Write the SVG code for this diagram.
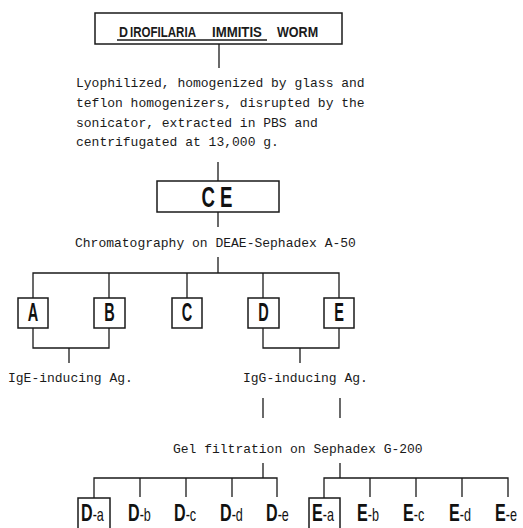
<svg xmlns="http://www.w3.org/2000/svg" width="523" height="528" viewBox="0 0 523 528">
<style>
.ln{stroke:#1a1a1a;stroke-width:1.3;fill:none}
.bx{stroke:#1a1a1a;stroke-width:1.5;fill:#fff}
.mono{font-family:"Liberation Mono","Courier New",monospace;font-size:13px;fill:#1a1a1a}
.ttl{font-family:"Liberation Sans",Arial,sans-serif;font-weight:bold;font-size:15.5px;fill:#1a1a1a}
.big{font-family:"Liberation Sans",Arial,sans-serif;font-weight:bold;fill:#111;text-anchor:middle}
.lab{font-family:"Liberation Sans",Arial,sans-serif;fill:#111}
.lab .D{font-weight:bold;font-size:23px}
.lab .s{font-size:18px}
</style>
<rect width="523" height="528" fill="#fff"/>
<g id="connectors">
<line class="ln" x1="219" y1="44" x2="219" y2="68"/>
<line class="ln" x1="218" y1="162" x2="218" y2="181"/>
<line class="ln" x1="218" y1="212" x2="218" y2="227"/>
<line class="ln" x1="218" y1="257" x2="218" y2="273"/>
<polyline class="ln" points="33,298 33,273 339,273 339,298"/>
<line class="ln" x1="109" y1="273" x2="109" y2="298"/>
<line class="ln" x1="187" y1="273" x2="187" y2="298"/>
<line class="ln" x1="263" y1="273" x2="263" y2="298"/>
<polyline class="ln" points="33,328 33,348 109,348 109,328"/>
<line class="ln" x1="69" y1="348" x2="69" y2="363"/>
<polyline class="ln" points="263,328 263,348 339,348 339,328"/>
<line class="ln" x1="300" y1="348" x2="300" y2="363"/>
<line class="ln" x1="263" y1="398" x2="263" y2="418"/>
<line class="ln" x1="340" y1="398" x2="340" y2="418"/>
<line class="ln" x1="263" y1="463" x2="263" y2="478"/>
<line class="ln" x1="340" y1="463" x2="340" y2="478"/>
<polyline class="ln" points="94,498 94,478 277,478 277,497"/>
<line class="ln" x1="140" y1="478" x2="140" y2="497"/>
<line class="ln" x1="186" y1="478" x2="186" y2="497"/>
<line class="ln" x1="232" y1="478" x2="232" y2="497"/>
<polyline class="ln" points="324,498 324,478 508,478 508,497"/>
<line class="ln" x1="370" y1="478" x2="370" y2="497"/>
<line class="ln" x1="416" y1="478" x2="416" y2="497"/>
<line class="ln" x1="462" y1="478" x2="462" y2="497"/>
</g>
<g id="worm">
<rect class="bx" x="95" y="13" width="247" height="31"/>
<text class="ttl" font-size="19" transform="translate(119,37) scale(0.8,1)">D</text>
<text class="ttl" transform="translate(130,37) scale(0.744,1)">IROFILARIA</text>
<text class="ttl" transform="translate(212,37) scale(0.853,1)">IMMITIS</text>
<text class="ttl" transform="translate(277,37) scale(0.81,1)">WORM</text>
<line class="ln" x1="117" y1="40" x2="267" y2="40"/>
</g>
<g id="prep">
<text class="mono" x="76" y="87">Lyophilized, homogenized by glass and</text>
<text class="mono" x="76" y="107">teflon homogenizers, disrupted by the</text>
<text class="mono" x="76" y="127">sonicator, extracted in PBS and</text>
<text class="mono" x="76" y="146">centrifugated at 13,000 g.</text>
</g>
<g id="CE">
<rect class="bx" x="157" y="181" width="122" height="31"/>
<text class="big" font-size="30" transform="translate(217,207) scale(0.62,1)">C E</text>
</g>
<text class="mono" x="75" y="247">Chromatography on DEAE-Sephadex A-50</text>
<g id="A"><rect class="bx" x="18" y="298" width="30" height="30"/><text class="big" font-size="25" transform="translate(33,321) scale(0.58,1)">A</text></g>
<g id="B"><rect class="bx" x="94" y="298" width="31" height="30"/><text class="big" font-size="25" transform="translate(109.5,321) scale(0.58,1)">B</text></g>
<g id="C"><rect class="bx" x="172" y="298" width="30" height="30"/><text class="big" font-size="25" transform="translate(187,321) scale(0.58,1)">C</text></g>
<g id="D"><rect class="bx" x="248" y="298" width="31" height="30"/><text class="big" font-size="25" transform="translate(263.5,321) scale(0.58,1)">D</text></g>
<g id="E"><rect class="bx" x="324" y="298" width="30" height="30"/><text class="big" font-size="25" transform="translate(339,321) scale(0.58,1)">E</text></g>
<text class="mono" x="8" y="382">IgE-inducing Ag.</text>
<text class="mono" x="243" y="382">IgG-inducing Ag.</text>
<text class="mono" x="173" y="453">Gel filtration on Sephadex G-200</text>
<g id="Da"><rect class="bx" x="78" y="498" width="32" height="32"/><text class="lab" transform="translate(81,521) scale(0.7,1)"><tspan class="D">D</tspan><tspan class="s">-a</tspan></text></g>
<g id="Db"><text class="lab" transform="translate(128,521) scale(0.7,1)"><tspan class="D">D</tspan><tspan class="s">-b</tspan></text></g>
<g id="Dc"><text class="lab" transform="translate(174,521) scale(0.7,1)"><tspan class="D">D</tspan><tspan class="s">-c</tspan></text></g>
<g id="Dd"><text class="lab" transform="translate(220,521) scale(0.7,1)"><tspan class="D">D</tspan><tspan class="s">-d</tspan></text></g>
<g id="De"><text class="lab" transform="translate(266,521) scale(0.7,1)"><tspan class="D">D</tspan><tspan class="s">-e</tspan></text></g>
<g id="Ea"><rect class="bx" x="309" y="498" width="31" height="32"/><text class="lab" transform="translate(312,521) scale(0.7,1)"><tspan class="D">E</tspan><tspan class="s">-a</tspan></text></g>
<g id="Eb"><text class="lab" transform="translate(357,521) scale(0.7,1)"><tspan class="D">E</tspan><tspan class="s">-b</tspan></text></g>
<g id="Ec"><text class="lab" transform="translate(403,521) scale(0.7,1)"><tspan class="D">E</tspan><tspan class="s">-c</tspan></text></g>
<g id="Ed"><text class="lab" transform="translate(449,521) scale(0.7,1)"><tspan class="D">E</tspan><tspan class="s">-d</tspan></text></g>
<g id="Ee"><text class="lab" transform="translate(495,521) scale(0.7,1)"><tspan class="D">E</tspan><tspan class="s">-e</tspan></text></g>
</svg>
